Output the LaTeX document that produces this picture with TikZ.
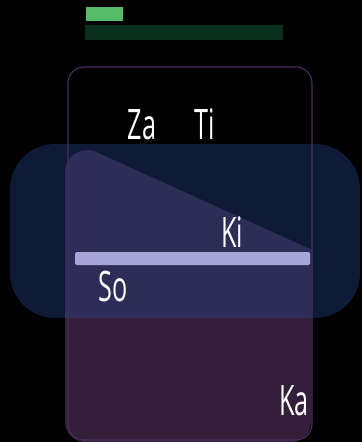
\documentclass[tikz,border=0pt]{standalone}
\usepackage{fontspec}
\setmainfont{Open Sans}[FakeStretch=0.6]
\begin{document}
\begin{tikzpicture}[x=1pt,y=-1pt,
  lbl/.style={text=white,font=\fontsize{42}{42}\selectfont,anchor=base,inner sep=0pt}]
\definecolor{lgreen}{HTML}{55BB66}
\definecolor{dgreen}{HTML}{0A2F1D}
\definecolor{purpfill}{HTML}{331F3A}
\definecolor{purpline}{HTML}{4A2E5E}
\definecolor{bluefill}{HTML}{264487}
\definecolor{lav}{HTML}{A6A6D8}
\fill[black] (0,0) rectangle (362,442);
\useasboundingbox (0,0) rectangle (362,442);
% green bars
\fill[lgreen] (86,7) rectangle (123,21);
\fill[dgreen] (85,25) rectangle (283,40);
% purple shape
\fill[purpfill] (65,300) -- (65,172) arc[start angle=180, end angle=65.3, radius=22pt]
  -- (311,249.5) [rounded corners=20pt] -- (311,442) -- (65,442) -- (65,300) -- cycle;
% blue rounded rect
\fill[bluefill,opacity=0.4,rounded corners=45pt] (10,144) rectangle (360,318);
% outline rect
\draw[purpline,line width=1.1pt,rounded corners=16pt] (68,440) -- (68,67) -- (312,67) -- (312,440) -- cycle;
% lavender bar
\fill[lav,rounded corners=2pt] (75,252) rectangle (310,265);
% labels
\node[lbl] (za) at (142,139) {Za};
\node[lbl] (ti) at (205,139) {Ti};
\node[lbl] (ki) at (232,247) {Ki};
\node[lbl] (so) at (113,301) {So};
\node[lbl] (ka) at (294,415) {Ka};
\end{tikzpicture}
\end{document}
